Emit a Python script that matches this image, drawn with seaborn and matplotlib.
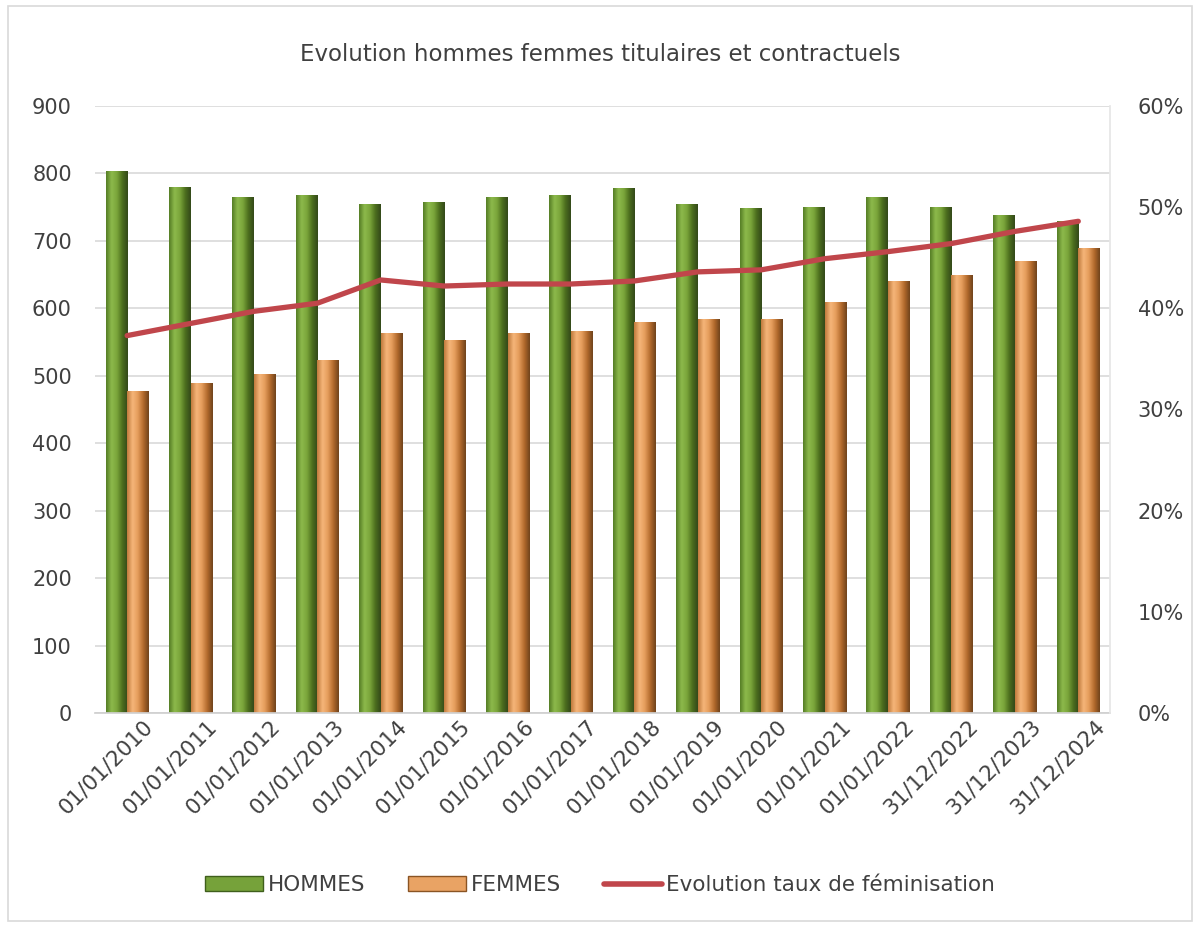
import matplotlib
matplotlib.use("Agg")
import matplotlib.pyplot as plt
import matplotlib.patches as mpatches
import matplotlib.transforms as mtransforms
from matplotlib.colors import LinearSegmentedColormap
from matplotlib.lines import Line2D
from matplotlib.ticker import FuncFormatter, MultipleLocator
import seaborn as sns
import pandas as pd
import numpy as np

dates = ["01/01/2010", "01/01/2011", "01/01/2012", "01/01/2013", "01/01/2014",
         "01/01/2015", "01/01/2016", "01/01/2017", "01/01/2018", "01/01/2019",
         "01/01/2020", "01/01/2021", "01/01/2022", "31/12/2022", "31/12/2023",
         "31/12/2024"]
hommes = [803, 780, 765, 768, 755, 758, 765, 768, 778, 755, 748, 750, 765, 750, 738, 730]
femmes = [477, 489, 503, 523, 564, 553, 564, 566, 580, 584, 584, 610, 640, 650, 670, 690]
taux = [0.373, 0.385, 0.397, 0.405, 0.428, 0.422, 0.424, 0.424, 0.427, 0.436,
        0.438, 0.449, 0.456, 0.464, 0.476, 0.486]

series_names = ["HOMMES", "FEMMES"]
line_name = "Evolution taux de féminisation"
title = "Evolution hommes femmes titulaires et contractuels"

sns.set_theme(style="white")
plt.rcParams["font.family"] = ["DejaVu Sans"]

c_green = "#76A23A"
c_orange = "#E9A364"
c_red = "#C0464B"
c_text = "#404040"
grad_green = ["#557D25", "#8DBA4C", "#7AA53A", "#4C6E1E", "#33491A"]
grad_orange = ["#C07A3C", "#F6B67A", "#E49C5B", "#B26A2C", "#70431C"]

df = pd.DataFrame({
    "date": dates * 2,
    "value": hommes + femmes,
    "serie": [series_names[0]] * len(dates) + [series_names[1]] * len(dates),
})

fig = plt.figure(figsize=(12, 9.27), dpi=100)
ax = fig.add_axes([0.0795, 0.2309, 0.8455, 0.6548])

sns.barplot(data=df, x="date", y="value", hue="serie", order=dates,
            hue_order=series_names, palette=[c_green, c_orange],
            width=0.68, gap=0, ax=ax, legend=False, saturation=1,
            linewidth=0)

# cylinder-like shading of bars
for cont, cols in zip(ax.containers, [grad_green, grad_orange]):
    cmap = LinearSegmentedColormap.from_list("g", cols)
    grad = np.linspace(0, 1, 64).reshape(1, -1)
    for p in cont.patches:
        x0, y0 = p.get_x(), p.get_y()
        w, h = p.get_width(), p.get_height()
        im = ax.imshow(grad, cmap=cmap, aspect="auto",
                       extent=(x0, x0 + w, y0, y0 + h), zorder=p.get_zorder() + 0.1,
                       interpolation="bicubic")
        im.set_clip_path(p)

ax.set_ylim(0, 900)
ax.set_xlim(-0.5, len(dates) - 0.5)
ax.yaxis.set_major_locator(MultipleLocator(100))
ax.grid(axis="y", color="#d9d9d9", linewidth=1.2)
ax.set_axisbelow(True)
for s in ["left", "right", "top"]:
    ax.spines[s].set_visible(False)
ax.spines["bottom"].set_color("#d0d0d0")
ax.set_xlabel("")
ax.set_ylabel("")
ax.tick_params(axis="y", labelsize=15, colors=c_text, length=0, pad=17)
ax.tick_params(axis="x", labelsize=15.5, colors=c_text, length=0, pad=2)
offset = mtransforms.ScaledTranslation(16 / 100, 0, fig.dpi_scale_trans)
for lab in ax.get_xticklabels():
    lab.set_rotation(45)
    lab.set_ha("right")
    lab.set_rotation_mode("anchor")
    lab.set_transform(lab.get_transform() + offset)

ax2 = ax.twinx()
sns.lineplot(x=np.arange(len(dates)), y=taux, ax=ax2, color=c_red, linewidth=3.8,
             legend=False)
ax2.set_ylim(0, 0.6)
ax2.set_xlim(-0.5, len(dates) - 0.5)
ax2.yaxis.set_major_locator(MultipleLocator(0.1))
ax2.yaxis.set_major_formatter(FuncFormatter(lambda v, p: f"{v*100:.0f}%"))
ax2.tick_params(axis="y", labelsize=15, colors=c_text, length=0, pad=20)
for s in ["left", "top", "bottom"]:
    ax2.spines[s].set_visible(False)
ax2.spines["right"].set_color("#e6e6e6")
ax2.grid(False)

fig.text(0.5, 0.9407, title, ha="center", va="center", fontsize=16.5, color=c_text)

handles = [mpatches.Patch(facecolor=c_green, edgecolor="#3f5f1c", label=series_names[0]),
           mpatches.Patch(facecolor=c_orange, edgecolor="#8a5424", label=series_names[1]),
           Line2D([0], [0], color=c_red, linewidth=4, label=line_name)]
fig.legend(handles=handles, loc="center", bbox_to_anchor=(0.5, 0.045), ncol=3,
           frameon=False, fontsize=15.5, handlelength=2.7, handleheight=0.7,
           columnspacing=2.0, handletextpad=0.2, labelcolor=c_text)

fig.add_artist(mpatches.Rectangle((0.007, 0.007), 0.986, 0.986, transform=fig.transFigure,
                                  fill=False, edgecolor="#d9d9d9", linewidth=1.2))

fig.savefig("out.png", dpi=100)
